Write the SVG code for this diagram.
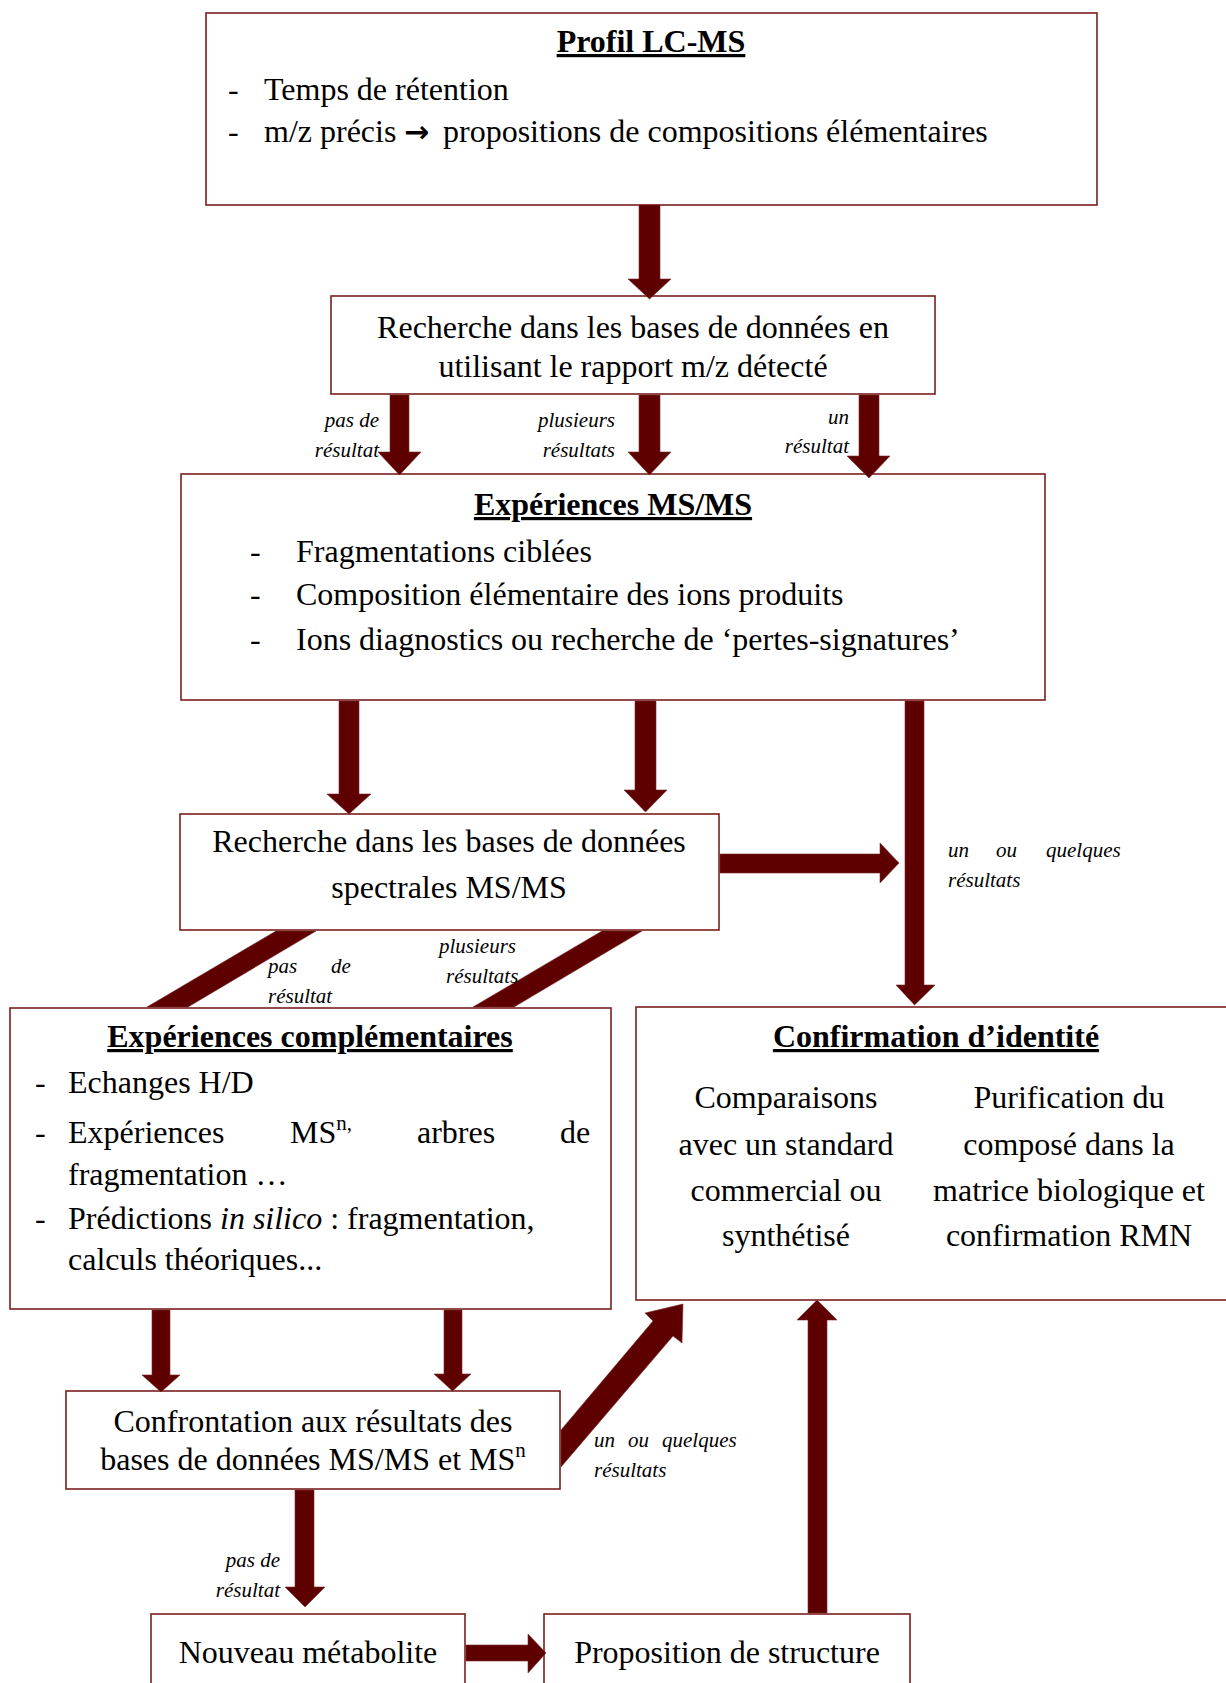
<svg xmlns="http://www.w3.org/2000/svg" width="1226" height="1683" viewBox="0 0 1226 1683">
<style>
.box{fill:#fff;stroke:#7a1f1f;stroke-width:1.6}
.ar{fill:#5e0000;stroke:#7a2a2a;stroke-width:0.6}
.t{font-family:"Liberation Serif","Times New Roman",serif;font-size:32px;fill:#000}
.c{text-anchor:middle}
.h{font-weight:bold;text-decoration:underline}
.l{font-family:"Liberation Serif","Times New Roman",serif;font-size:21px;font-style:italic;fill:#000}
.e{text-anchor:end}
</style>
<rect width="1226" height="1683" fill="#fff"/>

<g id="profil">
<rect class="box" x="206" y="13" width="891" height="192"/>
<text class="t c h" x="651" y="52">Profil LC-MS</text>
<text class="t" x="228" y="100">-</text>
<text class="t" x="264" y="100">Temps de rétention</text>
<text class="t" x="228" y="142">-</text>
<text class="t" x="264" y="142">m/z précis <tspan x="404" font-family="'DejaVu Sans',sans-serif" font-weight="bold" font-size="30">→</tspan><tspan x="443">propositions de compositions élémentaires</tspan></text>
</g>

<g id="recherche-mz">
<rect class="box" x="331" y="296" width="604" height="98"/>
<text class="t c" x="633" y="338">Recherche dans les bases de données en</text>
<text class="t c" x="633" y="377">utilisant le rapport m/z détecté</text>
</g>

<g id="msms">
<rect class="box" x="181" y="474" width="864" height="226"/>
<text class="t c h" x="613" y="515">Expériences MS/MS</text>
<text class="t" x="250" y="562">-</text>
<text class="t" x="296" y="562">Fragmentations ciblées</text>
<text class="t" x="250" y="605">-</text>
<text class="t" x="296" y="605">Composition élémentaire des ions produits</text>
<text class="t" x="250" y="650">-</text>
<text class="t" x="296" y="650">Ions diagnostics ou recherche de ‘pertes-signatures’</text>
</g>

<g id="recherche-spectrales">
<rect class="box" x="180" y="814" width="539" height="116"/>
<text class="t c" x="449" y="852">Recherche dans les bases de données</text>
<text class="t c" x="449" y="898">spectrales MS/MS</text>
</g>

<g id="complementaires">
<rect class="box" x="10" y="1008" width="601" height="301"/>
<text class="t c h" x="310" y="1047">Expériences complémentaires</text>
<text class="t" x="35" y="1093">-</text>
<text class="t" x="68" y="1093">Echanges H/D</text>
<text class="t" x="35" y="1143">-</text>
<text class="t" y="1143"><tspan x="68">Expériences</tspan><tspan x="290">MS</tspan><tspan font-size="21" dy="-13">n,</tspan><tspan x="417" dy="13">arbres</tspan><tspan x="560">de</tspan></text>
<text class="t" x="68" y="1185">fragmentation …</text>
<text class="t" x="35" y="1229">-</text>
<text class="t" x="68" y="1229">Prédictions <tspan font-style="italic">in silico</tspan> : fragmentation,</text>
<text class="t" x="68" y="1270">calculs théoriques...</text>
</g>

<g id="confirmation">
<rect class="box" x="636" y="1007" width="620" height="293"/>
<text class="t c h" x="936" y="1047">Confirmation d’identité</text>
<text class="t c" x="786" y="1108">Comparaisons</text>
<text class="t c" x="786" y="1155">avec un standard</text>
<text class="t c" x="786" y="1201">commercial ou</text>
<text class="t c" x="786" y="1246">synthétisé</text>
<text class="t c" x="1069" y="1108">Purification du</text>
<text class="t c" x="1069" y="1155">composé dans la</text>
<text class="t c" x="1069" y="1201">matrice biologique et</text>
<text class="t c" x="1069" y="1246">confirmation RMN</text>
</g>

<g id="confrontation">
<rect class="box" x="66" y="1391" width="494" height="98"/>
<text class="t c" x="313" y="1432">Confrontation aux résultats des</text>
<text class="t c" x="313" y="1470">bases de données MS/MS et MS<tspan font-size="21" dy="-13">n</tspan></text>
</g>

<g id="nouveau">
<rect class="box" x="151" y="1614" width="314" height="100"/>
<text class="t c" x="308" y="1663">Nouveau métabolite</text>
</g>

<g id="proposition">
<rect class="box" x="544" y="1614" width="366" height="100"/>
<text class="t c" x="727" y="1663">Proposition de structure</text>
</g>

<g id="connectors">
<polygon class="ar" points="639,205 660,205 660,279 671,279 649.5,299 628,279 639,279"/>
<polygon class="ar" points="390,395 409,395 409,452 421,452 399.5,475 378,452 390,452"/>
<polygon class="ar" points="639,395 660,395 660,452 671,452 649.5,475 628,452 639,452"/>
<polygon class="ar" points="859,395 879,395 879,456 890,456 869,478 847,456 859,456"/>
<polygon class="ar" points="339,701 359,701 359,794 371,794 349,814 327,794 339,794"/>
<polygon class="ar" points="635,701 656,701 656,790 667,790 645.5,812 624,790 635,790"/>
<polygon class="ar" points="905,701 924,701 924,985 935,985 914.5,1005 896,985 905,985"/>
<polygon class="ar" points="720,854 880,854 880,843 899,863 880,883 880,873 720,873"/>
<polygon class="ar" points="276,931 316,931 188,1007 147,1007"/>
<polygon class="ar" points="602,931 642,931 514,1007 473,1007"/>
<polygon class="ar" points="152,1310 170,1310 170,1375 180,1375 161,1392 142,1375 152,1375"/>
<polygon class="ar" points="444,1310 462,1310 462,1374 471,1374 452.5,1391 434,1374 444,1374"/>
<polygon class="ar" points="561,1430 653,1321 645,1313 683,1304 682,1343 673,1336 561,1467"/>
<polygon class="ar" points="295,1490 314,1490 314,1587 325,1587 305,1607 285,1587 295,1587"/>
<polygon class="ar" points="466,1645 528,1645 528,1634 546,1653 528,1673 528,1661 466,1661"/>
<polygon class="ar" points="808,1613 808,1320 797,1320 817,1300 837,1320 827,1320 827,1613"/>

<text class="l e" x="379" y="427">pas de</text>
<text class="l e" x="379" y="457">résultat</text>
<text class="l e" x="615" y="427">plusieurs</text>
<text class="l e" x="615" y="457">résultats</text>
<text class="l e" x="849" y="424">un</text>
<text class="l e" x="849" y="453">résultat</text>

<text class="l" y="857"><tspan x="948">un</tspan><tspan x="996">ou</tspan><tspan x="1046">quelques</tspan></text>
<text class="l" x="948" y="887">résultats</text>

<text class="l" y="973"><tspan x="268">pas</tspan><tspan x="331">de</tspan></text>
<text class="l" x="268" y="1003">résultat</text>
<text class="l" x="439" y="953">plusieurs</text>
<text class="l" x="446" y="983">résultats</text>

<text class="l" y="1447"><tspan x="594">un</tspan><tspan x="628">ou</tspan><tspan x="662">quelques</tspan></text>
<text class="l" x="594" y="1477">résultats</text>

<text class="l e" x="280" y="1567">pas de</text>
<text class="l e" x="280" y="1597">résultat</text>
</g>
</svg>
